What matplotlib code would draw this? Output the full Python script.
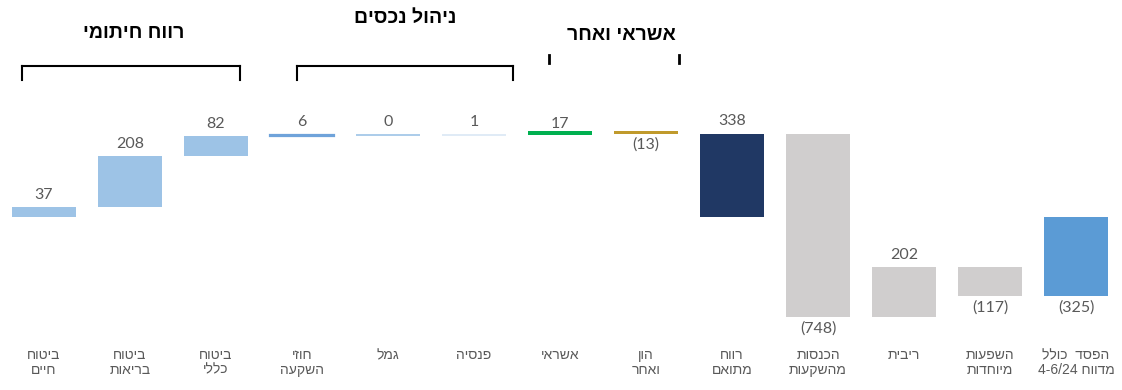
import matplotlib
matplotlib.use("Agg")
import matplotlib.pyplot as plt
from matplotlib.lines import Line2D

# ---------------- data ----------------
categories = ["ביטוח\nחיים", "ביטוח\nבריאות", "ביטוח\nכללי", "חוזי\nהשקעה", "גמל", "פנסיה",
              "אשראי", "הון\nואחר", "רווח\nמתואם", "הכנסות\nמהשקעות", "ריבית",
              "השפעות\nמיוחדות", "הפסד  כולל\nמדווח 4-6/24"]
values = [37, 208, 82, 6, 0, 1, 17, -13, 338, -748, 202, -117, -325]
is_total = [False, False, False, False, False, False, False, False, True,
            False, False, False, True]
colors = ["#9DC3E6", "#9DC3E6", "#9DC3E6", "#6FA3DA", "#9DC3E6", "#DAE7F5",
          "#00B050", "#C09A2C", "#203864", "#D0CECE", "#D0CECE", "#D0CECE", "#5B9BD5"]
group_titles = ["רווח חיתומי", "ניהול נכסים", "אשראי ואחר"]


def is_heb(ch):
    return "\u0590" <= ch <= "\u05FF"


def vis(s):
    """Simple visual ordering for right-to-left text."""
    out = []
    for line in s.split("\n"):
        words = line.split(" ")
        words = words[::-1]
        words = [w[::-1] if any(is_heb(c) for c in w) else w for w in words]
        out.append(" ".join(words))
    return "\n".join(out)


def fmt(v):
    return f"({abs(v)})" if v < 0 else f"{v}"


W, H = 1122, 390
fig = plt.figure(figsize=(W / 100, H / 100), dpi=100)
ax = fig.add_axes([0, 0, 1, 1])
ax.set_axis_off()

# pixel mapping: bar i center at 44 + 86*i ; zero at y=216.5 ; 0.245 px/unit
x0, dx = 44.0, 86.0
zero_px, scale = 216.5, 0.245
ax.set_xlim(-x0 / dx, (W - x0) / dx)
ax.set_ylim(-(H - zero_px) / scale, zero_px / scale)

xs = list(range(len(values)))
bottoms, heights = [], []
run = 0
for v, t in zip(values, is_total):
    if t:
        bottoms.append(0)
        heights.append(v)
        run = v
    else:
        bottoms.append(run)
        heights.append(v)
        run += v

bw = 64 / dx
for i, (b, h, c) in enumerate(zip(bottoms, heights, colors)):
    lw = 0
    ec = c
    if abs(h) < 8:
        lw = 1.6 if i == 3 else 1.2
    ax.bar(xs[i], h, bottom=b, width=bw, color=c, edgecolor=ec, linewidth=lw)

num_font = ["Lato", "DejaVu Sans"]
heb_font = ["Liberation Sans", "DejaVu Sans"]
label_off = {6: -0.5}
for i, (b, h, v) in enumerate(zip(bottoms, heights, values)):
    top = max(b, b + h)
    bot = min(b, b + h)
    if v >= 0:
        off = label_off.get(i, 4.0)
        ax.annotate(fmt(v), (xs[i], top), xytext=(0, off), textcoords="offset points",
                    ha="center", va="bottom", fontsize=11.5, color="#595959",
                    family=num_font)
    else:
        ax.annotate(fmt(v), (xs[i], bot), xytext=(0, -3), textcoords="offset points",
                    ha="center", va="top", fontsize=11.5, color="#595959",
                    family=num_font)

# category labels
for i, cat in enumerate(categories):
    fig.text((x0 + dx * i) / W, 1 - 348 / H, vis(cat), ha="center", va="top",
             fontsize=10, color="#595959", family=heb_font, linespacing=1.05)


def P(x, y):
    return x / W, 1 - y / H


def line(xa, ya, xb, yb, lw=1.5):
    (a1, a2), (b1, b2) = P(xa, ya), P(xb, yb)
    fig.add_artist(Line2D([a1, b1], [a2, b2], transform=fig.transFigure,
                          color="black", linewidth=lw))


# brackets
for xl, xr in [(22, 240), (297, 513)]:
    line(xl, 80, xl, 66)
    line(xl, 66, xr, 66)
    line(xr, 66, xr, 80)
line(549, 55, 549, 63, lw=2)
line(679, 55, 679, 63, lw=2)

# titles
for txt, (cx, cy) in zip(group_titles, [(134, 33), (405, 18), (621, 36)]):
    fig.text(cx / W, 1 - cy / H, vis(txt), ha="center", va="center",
             fontsize=14, fontweight="bold", color="black", family=heb_font)

fig.savefig("out.png", dpi=100)
